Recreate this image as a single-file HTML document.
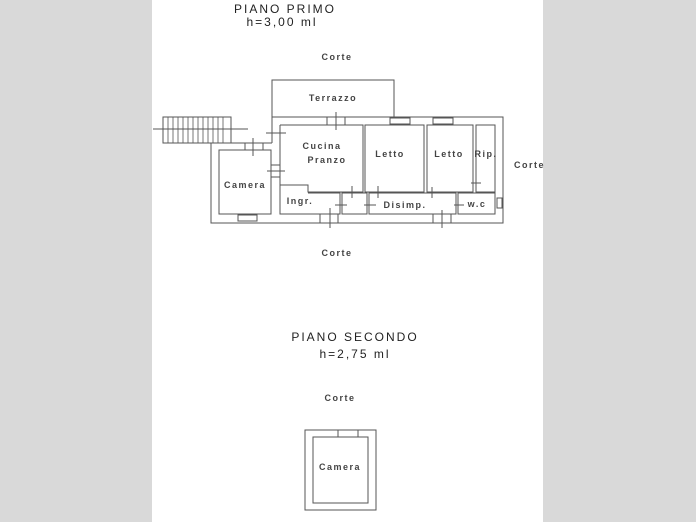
<!DOCTYPE html>
<html><head><meta charset="utf-8"><style>
html,body{margin:0;padding:0;background:#d9d9d9;}
svg{display:block;}
text{font-family:"Liberation Sans",sans-serif;fill:#222;}
</style></head><body>
<svg width="696" height="522" viewBox="0 0 696 522" xmlns="http://www.w3.org/2000/svg">
<rect x="0" y="0" width="696" height="522" fill="#d9d9d9"/>
<rect x="152" y="0" width="391" height="522" fill="#fff"/>
<g fill="none" stroke="#555" stroke-width="1">
<polyline points="272,117 503,117 503,223 211,223 211,143 272,143"/>
<line x1="272" y1="117" x2="272" y2="143"/>
<polyline points="272,117 272,80 394,80 394,117"/>
<rect x="163" y="117" width="68" height="26"/>
<g stroke-width="0.8">
<line x1="168" y1="117" x2="168" y2="143"/><line x1="173" y1="117" x2="173" y2="143"/><line x1="178" y1="117" x2="178" y2="143"/><line x1="183" y1="117" x2="183" y2="143"/><line x1="188" y1="117" x2="188" y2="143"/><line x1="193" y1="117" x2="193" y2="143"/><line x1="198" y1="117" x2="198" y2="143"/><line x1="203" y1="117" x2="203" y2="143"/><line x1="208" y1="117" x2="208" y2="143"/><line x1="213" y1="117" x2="213" y2="143"/><line x1="218" y1="117" x2="218" y2="143"/><line x1="223" y1="117" x2="223" y2="143"/>
</g>
<line x1="153" y1="129" x2="248" y2="129"/>
<rect x="219" y="150" width="52" height="64"/>
<polyline points="280,125 363,125 363,192 308,192 308,185 280,185 280,125"/>
<rect x="365" y="125" width="59" height="67"/>
<rect x="427" y="125" width="46" height="67"/>
<rect x="476" y="125" width="19" height="67"/>
<polyline points="280,185 280,214 340,214 340,193 308,193"/>
<rect x="342" y="193" width="25" height="21"/>
<rect x="369" y="193" width="87" height="21"/>
<rect x="458" y="193" width="37" height="21"/>
<rect x="327" y="117" width="18" height="8"/>
<rect x="390" y="118" width="20" height="6"/>
<rect x="433" y="118" width="20" height="6"/>
<rect x="238" y="215" width="19" height="6"/>
<rect x="320" y="214" width="18" height="9"/>
<rect x="433" y="214" width="18" height="9"/>
<rect x="497" y="198" width="5" height="10"/>
<rect x="245" y="143" width="18" height="7"/>
<rect x="271" y="165" width="9" height="12"/>
<line x1="336" y1="112" x2="336" y2="130"/>
<line x1="266" y1="133" x2="286" y2="133"/>
<line x1="253" y1="138" x2="253" y2="156"/>
<line x1="267" y1="171" x2="285" y2="171"/>
<line x1="352" y1="186" x2="352" y2="198"/>
<line x1="378" y1="186" x2="378" y2="198"/>
<line x1="432" y1="187" x2="432" y2="198"/>
<line x1="471" y1="183" x2="481" y2="183"/>
<line x1="335" y1="205" x2="347" y2="205"/>
<line x1="364" y1="205" x2="376" y2="205"/>
<line x1="454" y1="205" x2="464" y2="205"/>
<line x1="330" y1="208" x2="330" y2="228"/>
<line x1="442" y1="210" x2="442" y2="228"/>
<rect x="305" y="430" width="71" height="80"/>
<rect x="313" y="437" width="55" height="66"/>
<rect x="338" y="430" width="20" height="7"/>
</g>
<g font-size="12" letter-spacing="2">
<text x="285" y="13" text-anchor="middle">PIANO PRIMO</text>
<text x="282" y="26" text-anchor="middle">h=3,00 ml</text>
<text x="355" y="341" text-anchor="middle">PIANO SECONDO</text>
<text x="355" y="358" text-anchor="middle">h=2,75 ml</text>
</g>
<g font-size="9" letter-spacing="1.5" style="font-weight:bold" fill-opacity="0.85">
<text x="337" y="60" text-anchor="middle">Corte</text>
<text x="337" y="256" text-anchor="middle">Corte</text>
<text x="514" y="168">Corte</text>
<text x="340" y="401" text-anchor="middle">Corte</text>
<text x="333" y="101" text-anchor="middle">Terrazzo</text>
<text x="245" y="188" text-anchor="middle">Camera</text>
<text x="322" y="149" text-anchor="middle">Cucina</text>
<text x="327" y="163" text-anchor="middle">Pranzo</text>
<text x="390" y="157" text-anchor="middle">Letto</text>
<text x="449" y="157" text-anchor="middle">Letto</text>
<text x="486" y="157" text-anchor="middle">Rip.</text>
<text x="300" y="204" text-anchor="middle">Ingr.</text>
<text x="405" y="208" text-anchor="middle">Disimp.</text>
<text x="477" y="207" text-anchor="middle">w.c</text>
<text x="340" y="470" text-anchor="middle">Camera</text>
</g>
</svg>
</body></html>
